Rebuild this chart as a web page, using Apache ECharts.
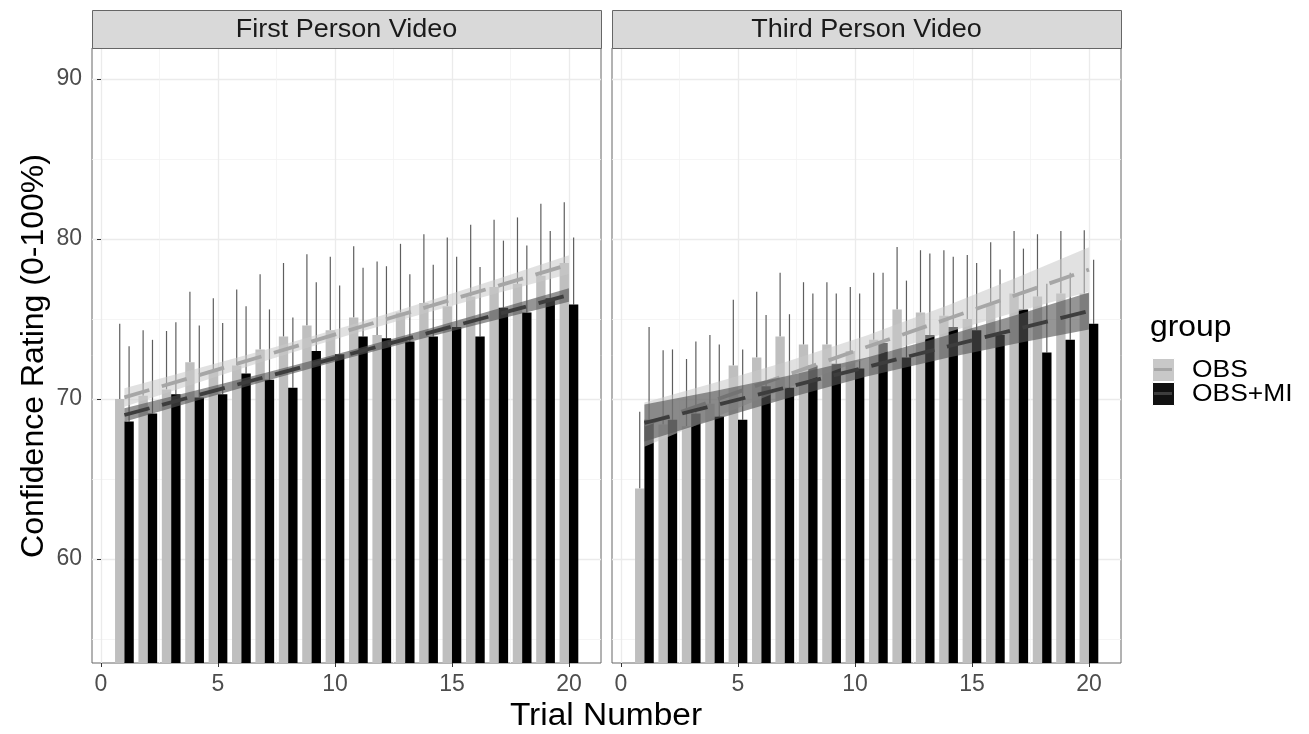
<!DOCTYPE html>
<html>
<head>
<meta charset="utf-8">
<title>Confidence Rating by Trial</title>
<script src="https://cdn.jsdelivr.net/npm/echarts@6/dist/echarts.min.js"></script>
<style>
  html, body { margin: 0; padding: 0; background: #fff; }
  #chart { width: 1309px; height: 734px; }
</style>
</head>
<body>
<div id="chart"></div>
<script>
// trial numbers
var trials = [1, 2, 3, 4, 5, 6, 7, 8, 9, 10, 11, 12, 13, 14, 15, 16, 17, 18, 19, 20];

// First Person Video - mean and top of error bar
var firstObs      = [70.0, 70.2, 70.6, 72.3, 71.8, 72.1, 73.1, 73.9, 74.6, 74.3, 75.1, 74.0, 75.4, 76.0, 75.8, 76.4, 77.0, 77.2, 77.7, 78.5];
var firstObsTop   = [74.7, 74.3, 74.25, 76.7, 76.3, 76.85, 77.8, 78.5, 79.05, 78.9, 79.55, 78.6, 79.7, 80.3, 80.1, 80.9, 81.2, 81.35, 82.2, 82.3];
var firstMi       = [68.6, 69.1, 70.3, 70.1, 70.3, 71.6, 71.2, 70.7, 73.0, 72.8, 73.9, 73.8, 73.6, 73.9, 74.5, 73.9, 75.7, 75.4, 76.3, 75.9];
var firstMiTop    = [73.3, 73.7, 74.8, 74.6, 74.75, 75.8, 75.6, 75.1, 77.3, 77.1, 78.2, 78.3, 77.8, 78.4, 78.9, 78.25, 79.9, 79.6, 80.5, 80.1];

// Third Person Video - mean and top of error bar
var thirdObs      = [64.4, 68.4, 68.3, 69.7, 72.1, 72.6, 73.9, 73.4, 73.4, 73.0, 73.7, 75.6, 75.4, 75.2, 75.0, 75.9, 76.6, 76.4, 76.6, 76.6];
var thirdObsTop   = [69.2, 73.05, 72.5, 74.0, 76.2, 76.7, 77.9, 77.3, 77.3, 77.0, 77.9, 79.5, 79.3, 79.3, 79.0, 79.8, 80.5, 80.3, 80.5, 80.55];
var thirdMi       = [68.7, 68.7, 69.1, 68.9, 68.7, 70.8, 70.7, 72.1, 72.2, 71.9, 73.5, 72.6, 74.0, 74.5, 74.3, 74.0, 75.6, 72.9, 73.7, 74.7];
var thirdMiTop    = [74.5, 73.1, 73.6, 73.4, 73.1, 75.25, 75.3, 76.6, 76.6, 76.6, 77.9, 77.4, 79.1, 78.9, 78.5, 78.1, 79.4, 77.2, 77.9, 78.7];

// linear trend (geom_smooth) read at these trials, with its confidence band
var fitX = [1, 4, 7, 10.5, 14, 17, 20];
var firstObsFit = [70.1, 71.41, 72.72, 74.25, 75.78, 77.09, 78.4];
var firstObsLo  = [69.52, 70.96, 72.37, 73.95, 75.43, 76.64, 77.82];
var firstObsHi  = [70.68, 71.86, 73.07, 74.55, 76.13, 77.54, 78.98];
var firstMiFit  = [69.0, 70.19, 71.37, 72.75, 74.13, 75.32, 76.5];
var firstMiLo   = [68.58, 69.86, 71.11, 72.53, 73.87, 74.99, 76.08];
var firstMiHi   = [69.42, 70.52, 71.63, 72.97, 74.39, 75.65, 76.92];
var thirdObsFit = [68.4, 69.93, 71.46, 73.25, 75.03, 76.56, 78.09];
var thirdObsLo  = [67.01, 68.85, 70.62, 72.53, 74.19, 75.48, 76.70];
var thirdObsHi  = [69.79, 71.01, 72.30, 73.97, 75.87, 77.64, 79.48];
var thirdMiFit  = [68.5, 69.6, 70.7, 72.0, 73.3, 74.4, 75.5];
var thirdMiLo   = [67.34, 68.7, 70.0, 71.4, 72.6, 73.5, 74.34];
var thirdMiHi   = [69.66, 70.5, 71.4, 72.6, 74.0, 75.3, 76.66];

var panelNames = ['First Person Video', 'Third Person Video'];
var groupNames = ['OBS', 'OBS+MI'];
var xMajor = [0, 5, 10, 15, 20];
var xMinor = [2.5, 7.5, 12.5, 17.5];
var yMajor = [60, 70, 80, 90];
var yMinor = [55, 65, 75, 85];

var Y_MIN = 53.5, Y_MAX = 91.94;
var X_MIN = -0.385, X_MAX = 21.37;
var BAR_W = 0.4;
var FONT = '"Liberation Sans", Arial, Helvetica, sans-serif';

var OBS_COLOR = '#bfbfbf';
var MI_COLOR = '#000000';

var panels = [
  { left: 92, obs: firstObs, obsTop: firstObsTop, mi: firstMi, miTop: firstMiTop,
    obsFit: firstObsFit, obsLo: firstObsLo, obsHi: firstObsHi,
    miFit: firstMiFit, miLo: firstMiLo, miHi: firstMiHi },
  { left: 612, obs: thirdObs, obsTop: thirdObsTop, mi: thirdMi, miTop: thirdMiTop,
    obsFit: thirdObsFit, obsLo: thirdObsLo, obsHi: thirdObsHi,
    miFit: thirdMiFit, miLo: thirdMiLo, miHi: thirdMiHi }
];
var PANEL_TOP = 48, PANEL_W = 509, PANEL_H = 615;

function barItem(offset, color) {
  return function (params, api) {
    var x = api.value(0) + offset;
    var p0 = api.coord([x - BAR_W / 2, api.value(1)]);
    var p1 = api.coord([x + BAR_W / 2, Y_MIN]);
    return {
      type: 'rect',
      shape: { x: p0[0], y: p0[1], width: p1[0] - p0[0], height: p1[1] - p0[1] },
      style: { fill: color }
    };
  };
}

function errItem(offset) {
  return function (params, api) {
    var x = api.value(0) + offset;
    var a = api.coord([x, api.value(1)]);
    var b = api.coord([x, api.value(2)]);
    return {
      type: 'line',
      shape: { x1: a[0], y1: a[1], x2: b[0], y2: b[1] },
      style: { stroke: '#5e5e5e', lineWidth: 1.2 }
    };
  };
}

function bandItem(lo, hi, fill) {
  return function (params, api) {
    if (params.dataIndex !== 0) return null;
    var pts = [];
    for (var i = 0; i < fitX.length; i++) pts.push(api.coord([fitX[i], hi[i]]));
    for (var j = fitX.length - 1; j >= 0; j--) pts.push(api.coord([fitX[j], lo[j]]));
    return { type: 'polygon', shape: { points: pts }, style: { fill: fill } };
  };
}

var grids = [], xAxes = [], yAxes = [], series = [];

panels.forEach(function (p, k) {
  grids.push({ left: p.left, top: PANEL_TOP, width: PANEL_W, height: PANEL_H,
    show: true, borderColor: '#666666', borderWidth: 1, backgroundColor: 'transparent' });

  // main axes (ticks, labels, major grid)
  xAxes.push({
    type: 'value', gridIndex: k, min: X_MIN, max: X_MAX, position: 'bottom',
    axisLine: { show: false },
    axisTick: { show: true, length: 4, customValues: xMajor, lineStyle: { color: '#333333' } },
    axisLabel: { show: true, customValues: xMajor, margin: 10, color: '#4d4d4d', fontSize: 23, fontFamily: FONT },
    splitLine: { show: true, lineStyle: { color: '#ebebeb', width: 1.3 } }
  });
  yAxes.push({
    type: 'value', gridIndex: k, min: Y_MIN, max: Y_MAX, position: 'left',
    axisLine: { show: false },
    axisTick: { show: k === 0, length: 4, customValues: yMajor, lineStyle: { color: '#333333' } },
    axisLabel: { show: k === 0, customValues: yMajor, margin: 10, color: '#4d4d4d', fontSize: 23, fontFamily: FONT },
    splitLine: { show: true, lineStyle: { color: '#ebebeb', width: 1.3 } }
  });
  // minor grid only
  xAxes.push({
    type: 'value', gridIndex: k, min: X_MIN, max: X_MAX, position: 'top',
    axisLine: { show: false },
    axisTick: { show: false, customValues: xMinor },
    axisLabel: { show: false, customValues: xMinor },
    splitLine: { show: true, lineStyle: { color: '#f3f3f3', width: 0.8 } }
  });
  yAxes.push({
    type: 'value', gridIndex: k, min: Y_MIN, max: Y_MAX, position: 'right',
    axisLine: { show: false },
    axisTick: { show: false, customValues: yMinor },
    axisLabel: { show: false, customValues: yMinor },
    splitLine: { show: true, lineStyle: { color: '#f3f3f3', width: 0.8 } }
  });

  var xi = k * 2, yi = k * 2;
  var obsData = trials.map(function (t, i) { return [t, p.obs[i], p.obsTop[i]]; });
  var miData = trials.map(function (t, i) { return [t, p.mi[i], p.miTop[i]]; });
  var fitData = fitX.map(function (x) { return [x]; });

  series.push(
    { type: 'custom', name: 'OBS', xAxisIndex: xi, yAxisIndex: yi, data: obsData, renderItem: errItem(-BAR_W / 2), z: 2 },
    { type: 'custom', name: 'OBS+MI', xAxisIndex: xi, yAxisIndex: yi, data: miData, renderItem: errItem(BAR_W / 2), z: 2 },
    { type: 'custom', name: 'OBS', xAxisIndex: xi, yAxisIndex: yi, data: obsData, renderItem: barItem(-BAR_W / 2, OBS_COLOR), z: 3 },
    { type: 'custom', name: 'OBS+MI', xAxisIndex: xi, yAxisIndex: yi, data: miData, renderItem: barItem(BAR_W / 2, MI_COLOR), z: 3 },
    { type: 'custom', xAxisIndex: xi, yAxisIndex: yi, data: fitData, renderItem: bandItem(p.obsLo, p.obsHi, 'rgba(200,200,200,0.55)'), z: 4 },
    { type: 'line', xAxisIndex: xi, yAxisIndex: yi, z: 5, symbol: 'none',
      data: fitX.map(function (x, i) { return [x, p.obsFit[i]]; }),
      lineStyle: { color: '#a6a6a6', width: 3.8, type: [26, 13] } },
    { type: 'custom', xAxisIndex: xi, yAxisIndex: yi, data: fitData, renderItem: bandItem(p.miLo, p.miHi, 'rgba(84,84,84,0.62)'), z: 6 },
    { type: 'line', xAxisIndex: xi, yAxisIndex: yi, z: 7, symbol: 'none',
      data: fitX.map(function (x, i) { return [x, p.miFit[i]]; }),
      lineStyle: { color: '#3d3d3d', width: 3.8, type: [26, 13] } }
  );
});

var graphics = [];
panels.forEach(function (p, k) {
  graphics.push({
    type: 'rect', left: p.left, top: 10, z: 10,
    shape: { width: PANEL_W, height: 38 },
    style: { fill: '#d9d9d9', stroke: '#666666', lineWidth: 1 }
  });
  graphics.push({
    type: 'text', x: p.left + PANEL_W / 2, y: 30, z: 11, scaleX: 1.08,
    style: { text: panelNames[k], fill: '#1a1a1a', font: '25px ' + FONT, textAlign: 'center', textVerticalAlign: 'middle' }
  });
});
// axis titles
graphics.push({
  type: 'text', x: 34, y: 356, rotation: Math.PI / 2, z: 11,
  style: { text: 'Confidence Rating (0-100%)', fill: '#000', font: '32px ' + FONT, textAlign: 'center', textVerticalAlign: 'middle' }
});
graphics.push({
  type: 'text', x: 606, y: 716, z: 11, scaleX: 1.08,
  style: { text: 'Trial Number', fill: '#000', font: '31px ' + FONT, textAlign: 'center', textVerticalAlign: 'middle' }
});
// legend
graphics.push({
  type: 'text', x: 1150, y: 328, z: 11, scaleX: 1.1,
  style: { text: 'group', fill: '#000', font: '29px ' + FONT, textAlign: 'left', textVerticalAlign: 'middle' }
});
var keyFill = ['#c8c8c8', '#111111'];
var keyLine = ['#a6a6a6', '#3d3d3d'];
groupNames.forEach(function (g, i) {
  var top = 358 + i * 24;
  graphics.push({ type: 'rect', left: 1152, top: top, z: 11, shape: { width: 22, height: 23 },
    style: { fill: keyFill[i], stroke: '#ffffff', lineWidth: 1 } });
  graphics.push({ type: 'line', z: 12, shape: { x1: 1154, y1: top + 11.5, x2: 1172, y2: top + 11.5 },
    style: { stroke: keyLine[i], lineWidth: 3 } });
  graphics.push({ type: 'text', x: 1192, y: top + 12, z: 11, scaleX: 1.1,
    style: { text: g, fill: '#000', font: '24px ' + FONT, textAlign: 'left', textVerticalAlign: 'middle' } });
});

var chart = echarts.init(document.getElementById('chart'), null, { renderer: 'canvas' });
chart.setOption({
  animation: false,
  backgroundColor: '#ffffff',
  grid: grids,
  xAxis: xAxes,
  yAxis: yAxes,
  series: series,
  graphic: graphics
});
</script>
</body>
</html>
